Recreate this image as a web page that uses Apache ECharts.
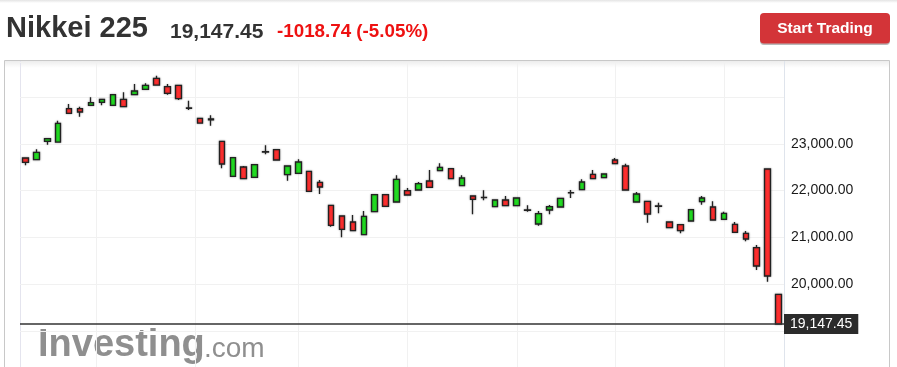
<!DOCTYPE html>
<html>
<head>
<meta charset="utf-8">
<script src="https://cdn.jsdelivr.net/npm/echarts@6/dist/echarts.min.js"></script>
<style>
html,body{margin:0;padding:0;background:#fff;}
#chart{width:897px;height:367px;}
</style>
</head>
<body>
<div id="chart"></div>
<script>
// Trading days (Nikkei 225, daily)
const dates = [
 '2018-09-12','2018-09-13','2018-09-14','2018-09-18','2018-09-19','2018-09-20','2018-09-21','2018-09-25','2018-09-26','2018-09-27','2018-09-28',
 '2018-10-01','2018-10-02','2018-10-03','2018-10-04','2018-10-05','2018-10-09','2018-10-10','2018-10-11','2018-10-12','2018-10-15','2018-10-16','2018-10-17','2018-10-18','2018-10-19','2018-10-22','2018-10-23','2018-10-24','2018-10-25','2018-10-26','2018-10-29','2018-10-30','2018-10-31',
 '2018-11-01','2018-11-02','2018-11-05','2018-11-06','2018-11-07','2018-11-08','2018-11-09','2018-11-12','2018-11-13','2018-11-14','2018-11-15','2018-11-16','2018-11-19','2018-11-20','2018-11-21','2018-11-22','2018-11-26','2018-11-27','2018-11-28','2018-11-29','2018-11-30',
 '2018-12-03','2018-12-04','2018-12-05','2018-12-06','2018-12-07','2018-12-10','2018-12-11','2018-12-12','2018-12-13','2018-12-14','2018-12-17','2018-12-18','2018-12-19','2018-12-20','2018-12-21','2018-12-25'
];
const opens = [22697,22660,23053,23038,23750,23750,23823,23887,23823,23951,24049,24165,24400,24220,24250,23765,23545,23510,23053,22306,22504,22284,22825,22874,22340,22370,22412,22177,21686,21457,21329,21058,21549,21912,21756,21998,22013,22205,22425,22468,22105,21885,21852,21656,21799,21677,21580,21286,21585,21650,21950,22019,22348,22276,22654,22526,21756,21771,21666,21329,21271,21350,21763,21650,21387,21280,21088,20780,22462,19784];
const closes = [22605,22818,23109,23438,23652,23680,23878,23951,24049,23793,24128,24250,24256,24079,23964,23760,23444,23530,22568,22703,22254,22553,22831,22654,22526,22611,21985,22077,21259,21173,21143,21451,21912,21665,22241,21906,22147,22070,22498,22254,22269,21814,21857,21799,21677,21842,21585,21506,21656,21835,21955,22184,22254,22355,22575,22013,21927,21500,21671,21207,21143,21592,21842,21372,21515,21109,20966,20389,20175,19147.45];
const lows = [22541,22650,22981,23030,23640,23579,23815,23823,23815,23785,24040,24155,24245,24049,23936,23722,23435,23387,22476,22300,22245,22275,22776,22648,22212,22362,21978,21927,21229,21002,21135,21050,21540,21657,21748,21900,22005,22060,22418,22247,22098,21494,21793,21650,21670,21670,21549,21250,21494,21643,21842,22012,22247,22270,22568,22005,21750,21314,21515,21200,21088,21343,21699,21365,21380,21100,20917,20303,20053,19140];
const highs = [22710,22882,23115,23494,23850,23793,23994,23960,24055,24100,24278,24293,24455,24278,24260,23921,23555,23609,23060,22710,22526,22560,22968,22880,22532,22669,22420,22226,21693,21465,21479,21564,21920,21920,22327,22056,22184,22440,22583,22475,22327,21892,22006,21806,21885,21850,21686,21564,21692,21842,22013,22241,22440,22362,22697,22575,21970,21778,21741,21336,21278,21600,21885,21771,21549,21329,21137,20838,22470,19790];
const yTicks = [20000, 21000, 22000, 23000];
const gridDates = ['2018-09-24','2018-10-08','2018-10-22','2018-11-05','2018-11-19','2018-12-03','2018-12-17'];
const lastPrice = 19147.45;
const titleText = 'Nikkei 225';
const priceText = '19,147.45';
const changeText = '-1018.74 (-5.05%)';
const buttonText = 'Start Trading';

function fmt(v){
  const s = v.toFixed(2);
  const parts = s.split('.');
  return parts[0].replace(/\B(?=(\d{3})+(?!\d))/g, ',') + '.' + parts[1];
}
const candles = dates.map((d,i)=>[opens[i], closes[i], lows[i], highs[i]]);
const gridPos = gridDates.map(g=>{
  const idx = dates.indexOf(g);
  if (idx >= 0) return idx;
  const next = dates.findIndex(d => d > g);
  return next - 0.5;
});

const FONT = "Arial, 'Liberation Sans', sans-serif";
const chart = echarts.init(document.getElementById('chart'), null, {renderer:'canvas'});
chart.setOption({
  animation:false,
  backgroundColor:'#fff',
  grid:{left:20, top:62, width:764, height:269, containLabel:false},
  xAxis:[
    {type:'category', data:dates, boundaryGap:true, show:false},
    {type:'value', min:-0.5, max:dates.length-0.5, show:false, gridIndex:0}
  ],
  yAxis:{
    type:'value', position:'right', min:19000, max:24748, interval:1000,
    axisLine:{show:false}, axisTick:{show:false},
    splitLine:{show:true, lineStyle:{color:'#f1f1f1', width:1}},
    axisLabel:{
      margin:7, color:'#1a1a1a', fontSize:14, fontFamily:FONT,
      padding:[0,0,4,0], showMaxLabel:false,
      formatter:v => yTicks.indexOf(v) >= 0 ? fmt(v) : ''
    }
  },
  series:[
    {
      type:'custom', xAxisIndex:1, yAxisIndex:0, silent:true, z:1,
      data:gridPos.map(p=>[p, 19000]),
      encode:{x:0, y:1},
      renderItem:(params, api)=>{
        const cs = params.coordSys;
        const x = Math.round(api.coord([api.value(0), 19000])[0]) + 0.5;
        return {type:'line', shape:{x1:x, y1:cs.y, x2:x, y2:367},
          style:{stroke:'#f1f1f1', lineWidth:1}};
      }
    },
    {
      type:'candlestick', xAxisIndex:0, yAxisIndex:0, z:3,
      data:candles,
      barWidth:6,
      itemStyle:{
        color:'#22dd22', color0:'#ff2f2f',
        borderColor:'#222', borderColor0:'#222', borderWidth:1.3,
        shadowBlur:2, shadowColor:'rgba(0,0,0,0.35)'
      },
      markLine:{
        silent:true, symbol:['none','none'], animation:false,
        lineStyle:{color:'#333', width:1.5, type:'solid'},
        label:{
          show:true, position:'end', distance:0,
          formatter:()=>fmt(lastPrice),
          color:'#fff', backgroundColor:'#2b2b2b', fontSize:14, fontFamily:FONT,
          padding:[3,6,3,6]
        },
        data:[{yAxis:lastPrice}]
      }
    }
  ],
  graphic:[
    {type:'rect', z:0, silent:true, shape:{x:0,y:0,width:897,height:3},
      style:{fill:new echarts.graphic.LinearGradient(0,0,0,1,[{offset:0,color:'#e4e4e4'},{offset:1,color:'#ffffff'}])}},
    {type:'text', z:10, x:6, y:28.5, style:{text:titleText, font:"bold 29px "+FONT, fill:'#333', verticalAlign:'middle'}},
    {type:'text', z:10, x:170, y:32, style:{text:priceText, font:"bold 21px "+FONT, fill:'#333', verticalAlign:'middle'}},
    {type:'text', z:10, x:277, y:32, style:{text:changeText, font:"bold 18.8px "+FONT, fill:'#ee1111', verticalAlign:'middle'}},
    {type:'rect', z:10, shape:{x:760,y:13,width:130,height:30.5,r:4},
      style:{fill:'#d33438', shadowColor:'#b8b8b8', shadowOffsetY:1.5, shadowBlur:0}},
    {type:'text', z:11, x:825, y:29, style:{text:buttonText, font:"bold 15.5px "+FONT, fill:'#fff', align:'center', verticalAlign:'middle'}},
    // frame
    {type:'rect', z:0, silent:true, shape:{x:5,y:61,width:884,height:7},
      style:{fill:new echarts.graphic.LinearGradient(0,0,0,1,[{offset:0,color:'rgba(0,0,0,0.07)'},{offset:1,color:'rgba(0,0,0,0)'}])}},
    {type:'rect', z:0, silent:true, shape:{x:4.5,y:60.5,width:885,height:330},
      style:{fill:'none', stroke:'#c8c8c8', lineWidth:1}},
    {type:'line', z:0, silent:true, shape:{x1:20.5,y1:61,x2:20.5,y2:367}, style:{stroke:'#e4e4ee', lineWidth:1}},
    {type:'line', z:0, silent:true, shape:{x1:784.5,y1:61,x2:784.5,y2:367}, style:{stroke:'#dfe4ec', lineWidth:1}},
    {type:'line', z:0, silent:true, shape:{x1:21,y1:377.5,x2:784,y2:377.5}, style:{stroke:'#f1f1f1', lineWidth:1}},
    // watermark
    {type:'text', z:0, silent:true, x:38, y:346, style:{text:'Investing', font:"bold 38px "+FONT, fill:'#8f8f8f', verticalAlign:'middle'}},
    {type:'text', z:0, silent:true, x:204, y:349.5, style:{text:'.com', font:"28px "+FONT, fill:'#8f8f8f', verticalAlign:'middle'}}
  ]
});
</script>
</body>
</html>
